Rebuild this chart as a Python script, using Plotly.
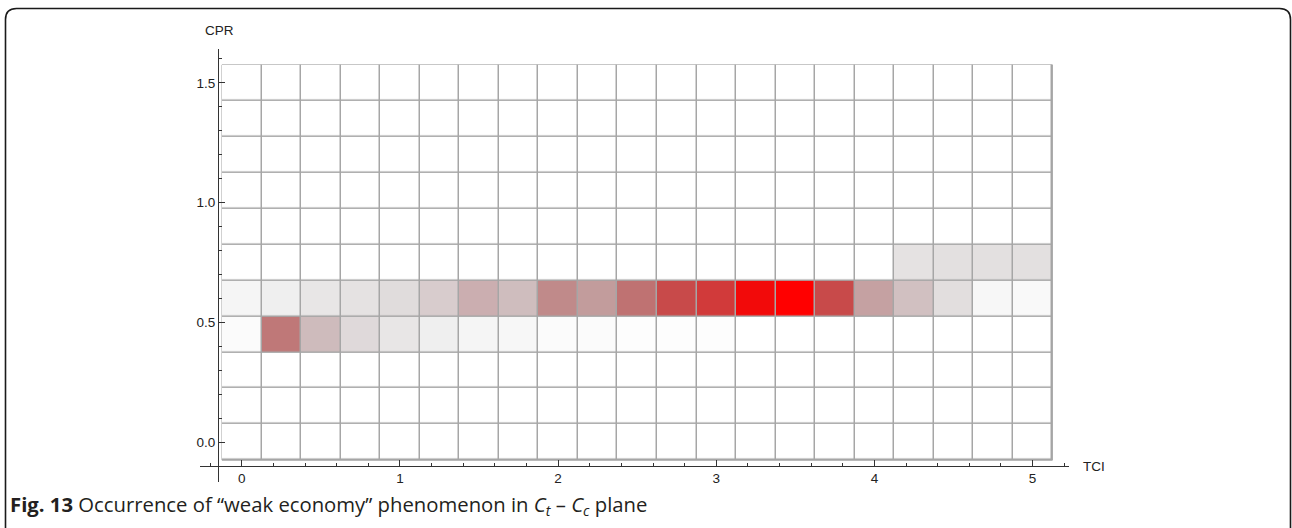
import plotly.graph_objects as go

# Bin centres of the 2-D histogram (TCI along x, CPR along y)
tci_bins = [0.0, 0.25, 0.5, 0.75, 1.0, 1.25, 1.5, 1.75, 2.0, 2.25, 2.5,
            2.75, 3.0, 3.25, 3.5, 3.75, 4.0, 4.25, 4.5, 4.75, 5.0]
cpr_bins = [0.0, 0.15, 0.3, 0.45, 0.6, 0.75, 0.9, 1.05, 1.2, 1.35, 1.5]

# Occurrence counts per CPR row (only the populated rows)
row_045 = [2, 55, 30, 18, 12, 8, 5, 4, 2, 2, 1, 1, 1, 0, 0, 0, 0, 0, 0, 0, 0]
row_060 = [5, 8, 12, 14, 17, 23, 35, 29, 49, 42, 57, 70, 80, 93, 100, 70, 40, 28, 16, 4, 3]
row_075 = [0, 0, 0, 0, 0, 0, 0, 0, 0, 0, 0, 0, 0, 0, 0, 0, 0, 14, 15, 15, 15]

x_ticks = [0, 1, 2, 3, 4, 5]
y_ticks = [0.0, 0.5, 1.0, 1.5]

empty_row = [0] * len(tci_bins)
rows = {0.45: row_045, 0.6: row_060, 0.75: row_075}
z = [rows.get(round(c, 2), empty_row) for c in cpr_bins]

# white -> pale grey -> dusky rose -> pure red
colorscale = [
    [0.00, "#FFFFFF"], [0.02, "#FBFBFB"], [0.05, "#F5F5F5"], [0.08, "#EFEFEF"],
    [0.12, "#E8E6E6"], [0.17, "#E0DCDC"], [0.23, "#D8CCCD"], [0.29, "#CFBDBE"],
    [0.35, "#CBAEB0"], [0.42, "#C29C9C"], [0.49, "#C08A8A"], [0.57, "#BF7272"],
    [0.70, "#C84A4A"], [0.80, "#D13A3A"], [0.93, "#F20A0A"], [1.00, "#FF0000"],
]

W, H = 1292, 528
ML, MR, MT, MB = 200, 223, 49, 46
x_range = [-0.264, 5.230]
y_range = [-0.166, 1.641]
x_origin, y_origin = -0.15, -0.10   # where the two axes cross

dx = tci_bins[1] - tci_bins[0]
dy = cpr_bins[1] - cpr_bins[0]
grid_x0, grid_x1 = tci_bins[0] - dx / 2, tci_bins[-1] + dx / 2
grid_y0, grid_y1 = cpr_bins[0] - dy / 2, cpr_bins[-1] + dy / 2

fig = go.Figure()
fig.add_trace(go.Heatmap(
    x=tci_bins, y=cpr_bins, z=z,
    zmin=0, zmax=100, colorscale=colorscale, showscale=False,
    xgap=1.5, ygap=1.5, hoverinfo="skip",
))

# grey backing that shows through the cell gaps as the bin grid
fig.add_shape(type="rect", xref="x", yref="y", layer="below",
              x0=grid_x0, x1=grid_x1, y0=grid_y0, y1=grid_y1,
              fillcolor="#A6A6A6", line=dict(color="#A6A6A6", width=1))

# rounded frame around the whole figure (pixel coords -> paper coords)
pw, ph = W - ML - MR, H - MT - MB
def px(x):
    return (x - ML) / pw
def py(y):
    return (H - MB - y) / ph
L, T, R, B, r = 5.5, 8.5, 1290.5, 540, 11
frame = (f"M {px(L)},{py(B)} L {px(L)},{py(T + r)} "
         f"Q {px(L)},{py(T)} {px(L + r)},{py(T)} "
         f"L {px(R - r)},{py(T)} Q {px(R)},{py(T)} {px(R)},{py(T + r)} "
         f"L {px(R)},{py(B)}")
fig.add_shape(type="path", xref="paper", yref="paper", path=frame,
              line=dict(color="#1a1a1a", width=1.6), layer="above")

axis_font = dict(family="Liberation Sans, Arial, sans-serif", size=13.5, color="#222222")
fig.update_layout(
    width=W, height=H,
    margin=dict(l=ML, r=MR, t=MT, b=MB),
    paper_bgcolor="white", plot_bgcolor="white",
    showlegend=False,
    xaxis=dict(
        range=x_range, anchor="free",
        position=(y_origin - y_range[0]) / (y_range[1] - y_range[0]),
        tickvals=x_ticks, ticktext=[str(v) for v in x_ticks],
        ticks="inside", ticklen=6, tickwidth=1, tickcolor="#333333",
        minor=dict(dtick=0.2, tick0=0, ticks="inside", ticklen=3,
                   tickcolor="#333333", showgrid=False),
        showline=True, linecolor="#333333", linewidth=1,
        showgrid=False, zeroline=False, tickfont=axis_font,
    ),
    yaxis=dict(
        range=y_range, anchor="free",
        position=(x_origin - x_range[0]) / (x_range[1] - x_range[0]),
        tickvals=y_ticks, ticktext=[f"{v:.1f}" for v in y_ticks],
        ticks="inside", ticklen=6, tickwidth=1, tickcolor="#333333",
        minor=dict(dtick=0.1, tick0=0, ticks="inside", ticklen=3,
                   tickcolor="#333333", showgrid=False),
        showline=True, linecolor="#333333", linewidth=1,
        showgrid=False, zeroline=False, tickfont=axis_font,
    ),
    annotations=[
        dict(text="CPR", xref="paper", yref="paper", x=px(203), y=py(31),
             xanchor="left", yanchor="middle", showarrow=False, font=axis_font),
        dict(text="TCI", xref="paper", yref="paper", x=px(1081), y=py(466),
             xanchor="left", yanchor="middle", showarrow=False, font=axis_font),
        dict(text="<b>Fig. 13</b> Occurrence of “weak economy” phenomenon in "
                  "<i>C</i><sub><i>t</i></sub> – <i>C</i><sub><i>c</i></sub> plane",
             xref="paper", yref="paper", x=px(8), y=py(505),
             xanchor="left", yanchor="middle", showarrow=False,
             font=dict(family="Open Sans, Noto Sans, sans-serif", size=20.3,
                       color="#231F20")),
    ],
)

fig.write_html("out.html")
